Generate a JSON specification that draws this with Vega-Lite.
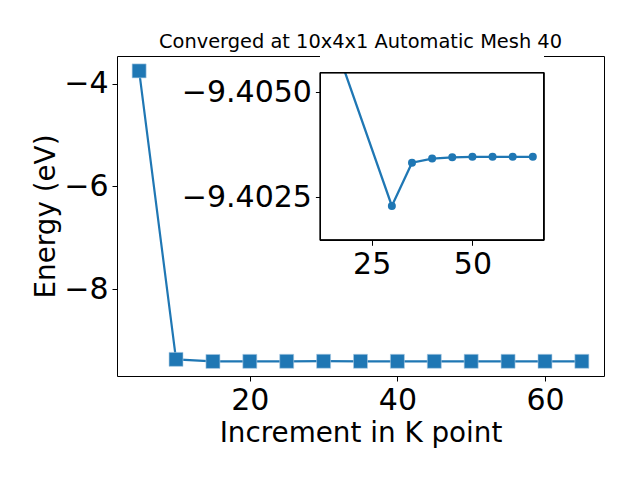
{
  "$schema": "https://vega.github.io/schema/vega-lite/v6.json",
  "width": 487,
  "height": 320,
  "autosize": "none",
  "padding": {"left": 117, "top": 56, "right": 36, "bottom": 104},
  "title": {"text": "Converged at 10x4x1 Automatic Mesh 40", "fontSize": 19.4, "fontWeight": "normal", "font": "DejaVu Sans", "color": "black", "offset": 4, "anchor": "middle"},
  "datasets": {
    "main": [
      {"k": 5, "energy": -3.75},
      {"k": 10, "energy": -9.366},
      {"k": 15, "energy": -9.4064},
      {"k": 20, "energy": -9.4045},
      {"k": 25, "energy": -9.4037},
      {"k": 30, "energy": -9.40229},
      {"k": 35, "energy": -9.40332},
      {"k": 40, "energy": -9.40342},
      {"k": 45, "energy": -9.40345},
      {"k": 50, "energy": -9.40346},
      {"k": 55, "energy": -9.40346},
      {"k": 60, "energy": -9.40346},
      {"k": 65, "energy": -9.40346}
    ],
    "inset": [
      {"k": 15, "energy": -9.4064},
      {"k": 30, "energy": -9.40229},
      {"k": 35, "energy": -9.40332},
      {"k": 40, "energy": -9.40342},
      {"k": 45, "energy": -9.40345},
      {"k": 50, "energy": -9.40346},
      {"k": 55, "energy": -9.40346},
      {"k": 60, "energy": -9.40346},
      {"k": 65, "energy": -9.40346}
    ]
  },
  "layer": [
    {
      "data": {"name": "main"},
      "encoding": {
        "x": {"field": "k", "type": "quantitative", "scale": {"domain": [2, 68], "nice": false, "zero": false},
              "axis": {"title": "Increment in K point", "values": [20, 40, 60], "format": "d", "orient": "bottom"}},
        "y": {"field": "energy", "type": "quantitative", "scale": {"domain": [-9.69, -3.46], "nice": false, "zero": false},
              "axis": {"title": "Energy (eV)", "values": [-4, -6, -8], "format": "d", "orient": "left"}}
      },
      "layer": [
        {"mark": {"type": "line", "color": "#1f77b4", "strokeWidth": 2.2}},
        {"mark": {"type": "point", "shape": "square", "filled": true, "size": 196, "color": "#1f77b4", "opacity": 1, "stroke": "#aecde4", "strokeWidth": 0.6}}
      ]
    },
    {
      "data": {"name": "inset"},
      "layer": [
        {
          "mark": {"type": "rect", "fill": "white", "strokeWidth": 0},
          "encoding": {
            "x": {"datum": 12.26, "type": "quantitative", "scale": {"domain": [12.26, 67.7], "range": [203.4, 426.7], "nice": false, "zero": false},
                  "axis": {"title": null, "values": [25, 50], "format": "d", "orient": "bottom", "offset": -135.7}},
            "x2": {"datum": 67.7},
            "y": {"datum": -9.40547, "type": "quantitative", "scale": {"domain": [-9.40547, -9.40147], "range": [16.6, 184.3], "nice": false, "zero": false},
                  "axis": {"title": null, "values": [-9.405, -9.4025], "format": ".4f", "orient": "left", "offset": -203.4}},
            "y2": {"datum": -9.40147}
          }
        },
        {
          "mark": {"type": "line", "color": "#1f77b4", "strokeWidth": 2.3, "clip": true},
          "encoding": {
            "x": {"field": "k", "type": "quantitative"},
            "y": {"field": "energy", "type": "quantitative"}
          }
        },
        {
          "mark": {"type": "circle", "size": 64, "color": "#1f77b4", "opacity": 1, "clip": true},
          "encoding": {
            "x": {"field": "k", "type": "quantitative"},
            "y": {"field": "energy", "type": "quantitative"}
          }
        },
        {
          "mark": {"type": "rect", "fill": "white", "strokeWidth": 0, "clip": true},
          "encoding": {
            "x": {"datum": 12.26, "type": "quantitative"},
            "x2": {"datum": 67.7},
            "y": {"datum": -9.40547, "type": "quantitative"},
            "y2": {"datum": -9.4061}
          }
        },
        {
          "mark": {"type": "rect", "fill": null, "fillOpacity": 0, "stroke": "black", "strokeWidth": 1},
          "encoding": {
            "x": {"datum": 12.26, "type": "quantitative"},
            "x2": {"datum": 67.7},
            "y": {"datum": -9.40547, "type": "quantitative"},
            "y2": {"datum": -9.40147}
          }
        }
      ]
    }
  ],
  "resolve": {"scale": {"x": "independent", "y": "independent"}, "axis": {"x": "independent", "y": "independent"}},
  "config": {
    "font": "DejaVu Sans",
    "view": {"stroke": "black", "strokeWidth": 1},
    "axis": {
      "domain": false,
      "grid": false,
      "tickColor": "black",
      "tickSize": 5,
      "tickWidth": 1,
      "labelPadding": 4,
      "labelFontSize": 30,
      "labelColor": "black",
      "labelFont": "DejaVu Sans",
      "titleFontSize": 27.8,
      "titleFontWeight": "normal",
      "titleColor": "black",
      "titleFont": "DejaVu Sans"
    },
    "axisY": {"titlePadding": 3},
    "axisX": {"titlePadding": 4, "labelFlush": false}
  }
}
